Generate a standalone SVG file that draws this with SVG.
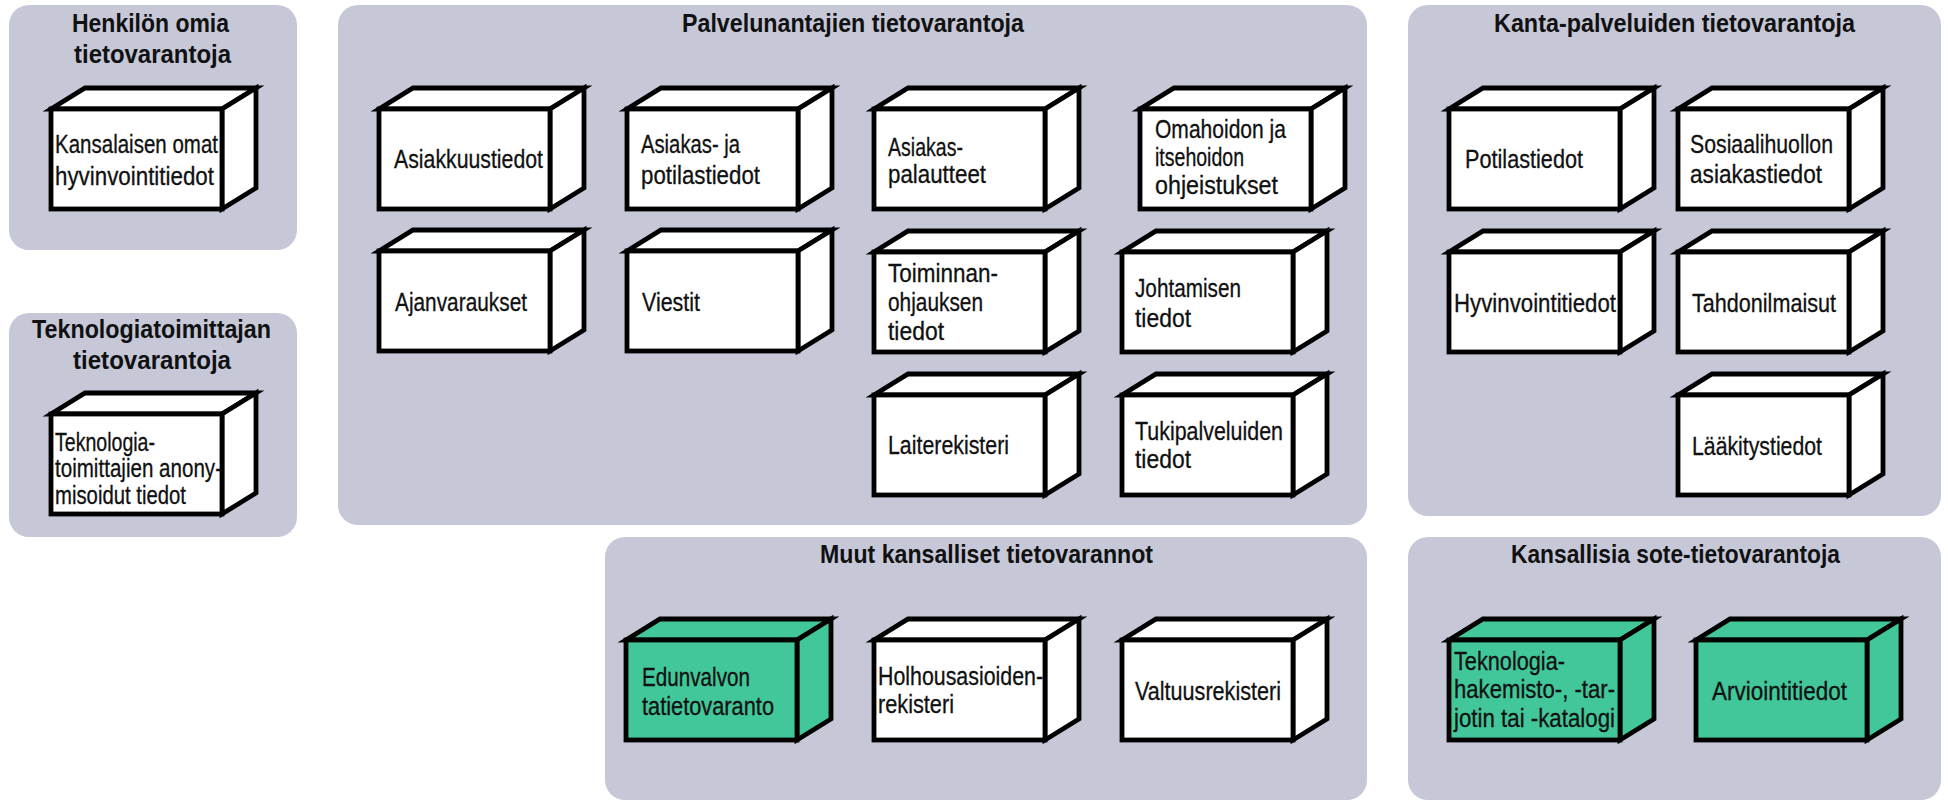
<svg xmlns="http://www.w3.org/2000/svg" xmlns:xlink="http://www.w3.org/1999/xlink" width="1948" height="800" viewBox="0 0 1948 800">
  <style>
    .panel { fill: #C6C8D8; }
    .w { fill: #FFFFFF; }
    .g { fill: #41C799; }
    .cube { stroke: #000000; stroke-width: 4.8; stroke-linejoin: miter; }
    .t { font-family: "Liberation Sans", Arial, sans-serif; font-weight: bold; font-size: 26.5px; fill: #111111; }
    .l { font-family: "Liberation Sans", Arial, sans-serif; font-size: 25.5px; fill: #111111; stroke: #111111; stroke-width: 0.3; }
  </style>
  <defs>
    <!-- 3D box: front face 175x104, depth offset (34,-21) -->
    <g id="cube" class="cube">
      <path d="M2,2 L36,-19 H207 L173,2 Z"/>
      <path d="M173,2 L207,-19 V81 L173,102 Z"/>
      <rect x="2" y="2" width="171" height="100"/>
    </g>
  </defs>

  <rect width="1948" height="800" fill="#FFFFFF"/>

  <!-- group panels -->
  <g id="panels">
    <g id="panel-henkilo">
      <rect class="panel" x="9" y="5" width="288" height="245" rx="20"/>
      <text class="t" x="72" y="32" textLength="157" lengthAdjust="spacingAndGlyphs">Henkilön omia</text>
      <text class="t" x="74" y="63" textLength="157" lengthAdjust="spacingAndGlyphs">tietovarantoja</text>
    </g>
    <g id="panel-teknologia">
      <rect class="panel" x="9" y="313" width="288" height="224" rx="20"/>
      <text class="t" x="32" y="338" textLength="239" lengthAdjust="spacingAndGlyphs">Teknologiatoimittajan</text>
      <text class="t" x="73" y="369" textLength="158" lengthAdjust="spacingAndGlyphs">tietovarantoja</text>
    </g>
    <g id="panel-palvelunantajat">
      <rect class="panel" x="338" y="5" width="1029" height="520" rx="20"/>
      <text class="t" x="682" y="32" textLength="342" lengthAdjust="spacingAndGlyphs">Palvelunantajien tietovarantoja</text>
    </g>
    <g id="panel-kanta">
      <rect class="panel" x="1408" y="5" width="533" height="511" rx="20"/>
      <text class="t" x="1494" y="32" textLength="361" lengthAdjust="spacingAndGlyphs">Kanta-palveluiden tietovarantoja</text>
    </g>
    <g id="panel-muut">
      <rect class="panel" x="605" y="537" width="762" height="263" rx="20"/>
      <text class="t" x="820" y="563" textLength="333" lengthAdjust="spacingAndGlyphs">Muut kansalliset tietovarannot</text>
    </g>
    <g id="panel-kansalliset">
      <rect class="panel" x="1408" y="537" width="533" height="263" rx="20"/>
      <text class="t" x="1511" y="563" textLength="329" lengthAdjust="spacingAndGlyphs">Kansallisia sote-tietovarantoja</text>
    </g>
  </g>

  <!-- data store nodes -->
  <g id="nodes">
    <g id="n-omat-hyvinvointitiedot">
      <use xlink:href="#cube" href="#cube" class="w" x="49" y="107"/>
      <text class="l" x="55" y="153" textLength="163" lengthAdjust="spacingAndGlyphs">Kansalaisen omat</text>
      <text class="l" x="55" y="185" textLength="159" lengthAdjust="spacingAndGlyphs">hyvinvointitiedot</text>
    </g>
    <g id="n-anonymisoidut">
      <use xlink:href="#cube" href="#cube" class="w" x="49" y="412"/>
      <text class="l" x="55" y="451" textLength="100" lengthAdjust="spacingAndGlyphs">Teknologia-</text>
      <text class="l" x="55" y="477" textLength="167" lengthAdjust="spacingAndGlyphs">toimittajien anony-</text>
      <text class="l" x="55" y="504" textLength="131" lengthAdjust="spacingAndGlyphs">misoidut tiedot</text>
    </g>

    <g id="n-asiakkuustiedot">
      <use xlink:href="#cube" href="#cube" class="w" x="377" y="107"/>
      <text class="l" x="394" y="168" textLength="149" lengthAdjust="spacingAndGlyphs">Asiakkuustiedot</text>
    </g>
    <g id="n-asiakas-potilastiedot">
      <use xlink:href="#cube" href="#cube" class="w" x="625" y="107"/>
      <text class="l" x="641" y="153" textLength="99" lengthAdjust="spacingAndGlyphs">Asiakas- ja</text>
      <text class="l" x="641" y="184" textLength="119" lengthAdjust="spacingAndGlyphs">potilastiedot</text>
    </g>
    <g id="n-asiakaspalautteet">
      <use xlink:href="#cube" href="#cube" class="w" x="872" y="107"/>
      <text class="l" x="888" y="156" textLength="75" lengthAdjust="spacingAndGlyphs">Asiakas-</text>
      <text class="l" x="888" y="183" textLength="98" lengthAdjust="spacingAndGlyphs">palautteet</text>
    </g>
    <g id="n-omahoito">
      <use xlink:href="#cube" href="#cube" class="w" x="1138" y="107"/>
      <text class="l" x="1155" y="138" textLength="131" lengthAdjust="spacingAndGlyphs">Omahoidon ja</text>
      <text class="l" x="1155" y="166" textLength="89" lengthAdjust="spacingAndGlyphs">itsehoidon</text>
      <text class="l" x="1155" y="194" textLength="123" lengthAdjust="spacingAndGlyphs">ohjeistukset</text>
    </g>
    <g id="n-ajanvaraukset">
      <use xlink:href="#cube" href="#cube" class="w" x="377" y="249"/>
      <text class="l" x="395" y="311" textLength="132" lengthAdjust="spacingAndGlyphs">Ajanvaraukset</text>
    </g>
    <g id="n-viestit">
      <use xlink:href="#cube" href="#cube" class="w" x="625" y="249"/>
      <text class="l" x="642" y="311" textLength="58" lengthAdjust="spacingAndGlyphs">Viestit</text>
    </g>
    <g id="n-toiminnanohjaus">
      <use xlink:href="#cube" href="#cube" class="w" x="872" y="250"/>
      <text class="l" x="888" y="282" textLength="110" lengthAdjust="spacingAndGlyphs">Toiminnan-</text>
      <text class="l" x="888" y="311" textLength="95" lengthAdjust="spacingAndGlyphs">ohjauksen</text>
      <text class="l" x="888" y="340" textLength="56" lengthAdjust="spacingAndGlyphs">tiedot</text>
    </g>
    <g id="n-johtaminen">
      <use xlink:href="#cube" href="#cube" class="w" x="1120" y="250"/>
      <text class="l" x="1135" y="297" textLength="106" lengthAdjust="spacingAndGlyphs">Johtamisen</text>
      <text class="l" x="1135" y="327" textLength="56" lengthAdjust="spacingAndGlyphs">tiedot</text>
    </g>
    <g id="n-laiterekisteri">
      <use xlink:href="#cube" href="#cube" class="w" x="872" y="393"/>
      <text class="l" x="888" y="454" textLength="121" lengthAdjust="spacingAndGlyphs">Laiterekisteri</text>
    </g>
    <g id="n-tukipalvelut">
      <use xlink:href="#cube" href="#cube" class="w" x="1120" y="393"/>
      <text class="l" x="1135" y="440" textLength="148" lengthAdjust="spacingAndGlyphs">Tukipalveluiden</text>
      <text class="l" x="1135" y="468" textLength="56" lengthAdjust="spacingAndGlyphs">tiedot</text>
    </g>

    <g id="n-potilastiedot">
      <use xlink:href="#cube" href="#cube" class="w" x="1447" y="107"/>
      <text class="l" x="1465" y="168" textLength="118" lengthAdjust="spacingAndGlyphs">Potilastiedot</text>
    </g>
    <g id="n-sosiaalihuolto">
      <use xlink:href="#cube" href="#cube" class="w" x="1676" y="107"/>
      <text class="l" x="1690" y="153" textLength="143" lengthAdjust="spacingAndGlyphs">Sosiaalihuollon</text>
      <text class="l" x="1690" y="183" textLength="132" lengthAdjust="spacingAndGlyphs">asiakastiedot</text>
    </g>
    <g id="n-hyvinvointitiedot">
      <use xlink:href="#cube" href="#cube" class="w" x="1447" y="250"/>
      <text class="l" x="1454" y="312" textLength="162" lengthAdjust="spacingAndGlyphs">Hyvinvointitiedot</text>
    </g>
    <g id="n-tahdonilmaisut">
      <use xlink:href="#cube" href="#cube" class="w" x="1676" y="250"/>
      <text class="l" x="1692" y="312" textLength="144" lengthAdjust="spacingAndGlyphs">Tahdonilmaisut</text>
    </g>
    <g id="n-laakitystiedot">
      <use xlink:href="#cube" href="#cube" class="w" x="1676" y="393"/>
      <text class="l" x="1692" y="455" textLength="130" lengthAdjust="spacingAndGlyphs">Lääkitystiedot</text>
    </g>

    <g id="n-edunvalvonta">
      <use xlink:href="#cube" href="#cube" class="g" x="624" y="638"/>
      <text class="l" x="642" y="686" textLength="108" lengthAdjust="spacingAndGlyphs">Edunvalvon</text>
      <text class="l" x="642" y="715" textLength="132" lengthAdjust="spacingAndGlyphs">tatietovaranto</text>
    </g>
    <g id="n-holhousasiat">
      <use xlink:href="#cube" href="#cube" class="w" x="872" y="638"/>
      <text class="l" x="878" y="685" textLength="165" lengthAdjust="spacingAndGlyphs">Holhousasioiden-</text>
      <text class="l" x="878" y="713" textLength="76" lengthAdjust="spacingAndGlyphs">rekisteri</text>
    </g>
    <g id="n-valtuusrekisteri">
      <use xlink:href="#cube" href="#cube" class="w" x="1120" y="638"/>
      <text class="l" x="1135" y="700" textLength="146" lengthAdjust="spacingAndGlyphs">Valtuusrekisteri</text>
    </g>

    <g id="n-teknologiahakemisto">
      <use xlink:href="#cube" href="#cube" class="g" x="1447" y="638"/>
      <text class="l" x="1454" y="670" textLength="111" lengthAdjust="spacingAndGlyphs">Teknologia-</text>
      <text class="l" x="1454" y="698" textLength="161" lengthAdjust="spacingAndGlyphs">hakemisto-, -tar-</text>
      <text class="l" x="1454" y="727" textLength="161" lengthAdjust="spacingAndGlyphs">jotin tai -katalogi</text>
    </g>
    <g id="n-arviointitiedot">
      <use xlink:href="#cube" href="#cube" class="g" x="1694" y="638"/>
      <text class="l" x="1712" y="700" textLength="135" lengthAdjust="spacingAndGlyphs">Arviointitiedot</text>
    </g>
  </g>

  <!-- no links between the stores -->
  <g id="connectors"/>
</svg>
